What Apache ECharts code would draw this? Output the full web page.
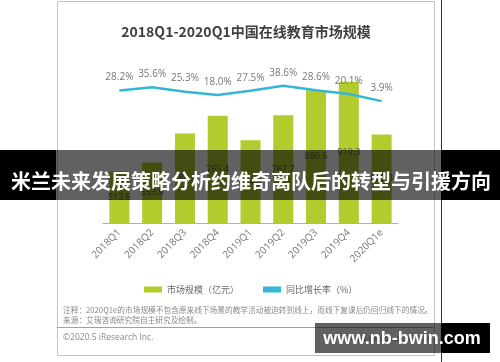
<!DOCTYPE html>
<html>
<head>
<meta charset="utf-8">
<script src="https://cdn.jsdelivr.net/npm/echarts@6/dist/echarts.min.js"></script>
<style>html,body{margin:0;padding:0;background:#fff;}#c{width:500px;height:362px;}</style>
</head>
<body>
<div id="c"></div>
<script>
var categories = ['2018Q1','2018Q2','2018Q3','2018Q4','2019Q1','2019Q2','2019Q3','2019Q4','2020Q1e'];
var marketSize = [513.6, 553.9, 684.8, 765.4, 654.8, 767.7, 880.6, 919.3, 680.3];
var growthRate = [28.2, 35.6, 25.3, 18.0, 27.5, 38.6, 28.6, 20.1, 3.9];
var seriesNames = ['市场规模（亿元）', '同比增长率（%）'];
var titleText = '2018Q1-2020Q1中国在线教育市场规模';
var noteText = '注释：2020Q1e的市场规模不包含原来线下场景的教学活动被迫转到线上，而线下复课后仍回归线下的情况。';
var sourceText = '来源：艾瑞咨询研究院自主研究及绘制。';
var copyText = '©2020.5 iResearch Inc.';
var urlText = 'www.iresearch.com.cn';
var bannerText = '米兰未来发展策略分析约维奇离队后的转型与引援方向';
var watermarkText = 'www.nb-bwin.com';

var cjk = '"Noto Sans CJK SC", "Noto Sans", sans-serif';
var lat = '"Open Sans", "Noto Sans", "Noto Sans CJK SC", sans-serif';

var chart = echarts.init(document.getElementById('c'), null, {renderer: 'canvas'});
chart.setOption({
  backgroundColor: '#fff',
  animation: false,
  grid: {left: 103, right: 102, top: 64, bottom: 139},
  legend: {
    left: 139, top: 280,
    itemWidth: 18, itemHeight: 6, itemGap: 24,
    textStyle: {fontSize: 9, color: '#666', fontFamily: cjk},
    data: [
      {name: seriesNames[0], icon: 'rect'},
      {name: seriesNames[1], icon: 'rect', itemStyle: {color: '#35b6d6'}}
    ]
  },
  xAxis: {
    type: 'category',
    data: categories,
    axisLine: {onZero: false, lineStyle: {color: '#b0b0b0', width: 1}},
    axisTick: {show: false},
    axisLabel: {rotate: 45, color: '#777', fontSize: 10, margin: 8, fontFamily: lat}
  },
  yAxis: [
    {type: 'value', min: 280, max: 1000, show: false},
    {type: 'value', min: -272, max: 88, show: false}
  ],
  series: [
    {
      name: seriesNames[0],
      type: 'bar',
      data: marketSize,
      barWidth: 20,
      itemStyle: {color: '#b3cb2d'},
      label: {show: true, position: 'inside', color: '#555', fontSize: 9, fontFamily: lat}
    },
    {
      name: seriesNames[1],
      type: 'line',
      yAxisIndex: 1,
      data: growthRate,
      showSymbol: true,
      symbol: 'circle',
      symbolSize: 0.1,
      lineStyle: {color: '#35b6d6', width: 2.5},
      itemStyle: {color: '#35b6d6'},
      label: {show: true, position: 'top', distance: 8, color: '#777', fontSize: 10, fontFamily: lat,
        formatter: function (p) { return p.value.toFixed(1) + '%'; }}
    }
  ],
  graphic: [
    {type: 'rect', z: 0, shape: {x: 57.5, y: 1.5, width: 377, height: 354}, style: {fill: 'none', stroke: '#c4c4c4', lineWidth: 1}},
    {type: 'line', z: 0, shape: {x1: 441.5, y1: 0, x2: 441.5, y2: 362}, style: {stroke: '#333', lineWidth: 1}},
    {type: 'text', z: 5, x: 246, y: 32, style: {text: titleText, fill: '#404040', font: 'bold 14px ' + cjk, textAlign: 'center', textVerticalAlign: 'middle'}},
    {type: 'text', z: 5, x: 63, y: 310, style: {text: noteText, fill: '#8a8a8a', font: '7.7px ' + cjk, textAlign: 'left', textVerticalAlign: 'middle'}},
    {type: 'text', z: 5, x: 63, y: 320, style: {text: sourceText, fill: '#8a8a8a', font: '7.7px ' + cjk, textAlign: 'left', textVerticalAlign: 'middle'}},
    {type: 'line', z: 5, shape: {x1: 57, y1: 327.5, x2: 435, y2: 327.5}, style: {stroke: '#a0a0a0', lineWidth: 1}},
    {type: 'text', z: 5, x: 63, y: 338, style: {text: copyText, fill: '#8a8a8a', font: '8.5px ' + lat, textAlign: 'left', textVerticalAlign: 'middle'}},
    {type: 'text', z: 5, x: 432, y: 339, style: {text: urlText, fill: '#8a8a8a', font: '8px ' + lat, textAlign: 'right', textVerticalAlign: 'middle'}},
    {type: 'rect', z: 100, shape: {x: 0, y: 150, width: 56, height: 50}, style: {fill: '#000'}},
    {type: 'rect', z: 100, shape: {x: 56, y: 150, width: 385, height: 50}, style: {fill: 'rgba(0,0,0,0.62)'}},
    {type: 'rect', z: 100, shape: {x: 441, y: 150, width: 59, height: 50}, style: {fill: '#000'}},
    {type: 'text', z: 101, x: 251, y: 181, style: {text: bannerText, fill: '#fff', font: 'bold 20px ' + cjk, textAlign: 'center', textVerticalAlign: 'middle'}},
    {type: 'rect', z: 100, shape: {x: 315, y: 323, width: 126, height: 30}, style: {fill: 'rgba(0,0,0,0.62)'}},
    {type: 'rect', z: 100, shape: {x: 441, y: 323, width: 49, height: 30}, style: {fill: '#000'}},
    {type: 'text', z: 101, x: 402, y: 339, style: {text: watermarkText, fill: '#fff', font: 'bold 18px "Liberation Sans", Arial, sans-serif', textAlign: 'center', textVerticalAlign: 'middle'}}
  ]
});
</script>
</body>
</html>
